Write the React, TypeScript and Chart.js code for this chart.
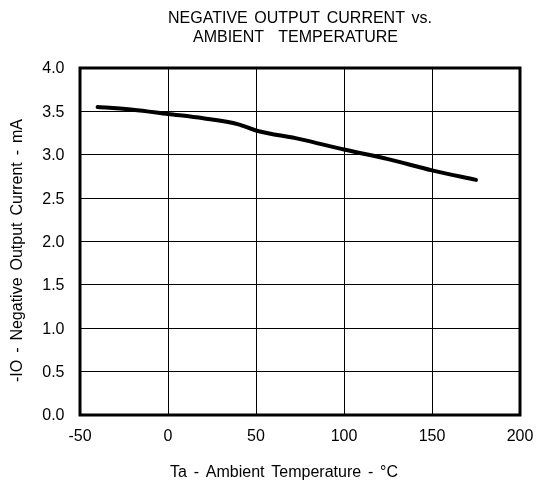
import React, { useEffect, useRef } from "react";
import { Chart, registerables } from "chart.js";

Chart.register(...registerables);

const temperatures = [-40, -20, 0, 20, 40, 50, 75, 100, 125, 150, 175];
const currents = [3.55, 3.52, 3.47, 3.42, 3.35, 3.28, 3.18, 3.06, 2.95, 2.82, 2.71];
const xTickValues = [-50, 0, 50, 100, 150, 200];
const yTickValues = [0, 0.5, 1, 1.5, 2, 2.5, 3, 3.5, 4];
const titleLine1 = ["NEGATIVE", "OUTPUT", "CURRENT", "vs."];
const titleLine2 = ["AMBIENT", "TEMPERATURE"];
const xTitleWords = ["Ta", "-", "Ambient", "Temperature", "-", "°C"];
const yTitleWords = ["-IO", "-", "Negative", "Output", "Current", "-", "mA"];

const FONT = "16px 'Liberation Sans', Arial, sans-serif";

function drawSpaced(ctx: CanvasRenderingContext2D, words: string[], left: number, right: number, baseline: number) {
  const widths = words.map((w) => ctx.measureText(w).width);
  const total = widths.reduce((a, b) => a + b, 0);
  const gap = words.length > 1 ? (right - left - total) / (words.length - 1) : 0;
  let x = left;
  ctx.textAlign = "left";
  ctx.textBaseline = "alphabetic";
  words.forEach((w, i) => {
    ctx.fillText(w, x, baseline);
    x += widths[i] + gap;
  });
}

const framePlugin = {
  id: "frameAndText",
  afterDraw(chart: any) {
    const { ctx, chartArea, scales } = chart;
    const { left, right, top, bottom } = chartArea;
    ctx.save();
    ctx.strokeStyle = "#000";
    ctx.lineWidth = 3;
    ctx.strokeRect(left, top, right - left, bottom - top);
    ctx.fillStyle = "#000";
    ctx.font = FONT;

    // tick labels
    ctx.textAlign = "center";
    ctx.textBaseline = "alphabetic";
    xTickValues.forEach((v) => {
      ctx.fillText(String(v), scales.x.getPixelForValue(v), 441);
    });
    ctx.textAlign = "right";
    ctx.textBaseline = "middle";
    yTickValues.forEach((v) => {
      ctx.fillText(v.toFixed(1), 64.5, scales.y.getPixelForValue(v) + 1);
    });

    // titles
    drawSpaced(ctx, titleLine1, 168, 432, 23.3);
    drawSpaced(ctx, titleLine2, 193, 398, 41.7);
    drawSpaced(ctx, xTitleWords, 170, 398, 476.5);
    ctx.translate(21.7, 382);
    ctx.rotate(-Math.PI / 2);
    drawSpaced(ctx, yTitleWords, 0, 263, 0);
    ctx.restore();
  },
};

export default function App() {
  const ref = useRef<HTMLCanvasElement | null>(null);
  useEffect(() => {
    if (!ref.current) return;
    const chart = new Chart(ref.current, {
      type: "line",
      data: {
        datasets: [
          {
            data: temperatures.map((t, i) => ({ x: t, y: currents[i] })),
            borderColor: "#000",
            borderWidth: 4,
            borderCapStyle: "round",
            pointRadius: 0,
            tension: 0.4,
            cubicInterpolationMode: "monotone",
            fill: false,
          },
        ],
      },
      options: {
        responsive: false,
        animation: false,
        layout: { padding: { top: 68, right: 16, left: 0, bottom: 0 } },
        plugins: { legend: { display: false }, tooltip: { enabled: false }, title: { display: false } },
        scales: {
          x: {
            type: "linear",
            min: -50,
            max: 200,
            afterFit: (s: any) => {
              s.height = 70;
            },
            ticks: { stepSize: 50, display: false },
            grid: { color: "#000", lineWidth: 1, drawTicks: false },
            border: { display: false },
          },
          y: {
            min: 0,
            max: 4,
            afterFit: (s: any) => {
              s.width = 80;
            },
            ticks: { stepSize: 0.5, display: false },
            grid: { color: "#000", lineWidth: 1, drawTicks: false },
            border: { display: false },
          },
        },
      },
      plugins: [framePlugin],
    } as any);
    return () => chart.destroy();
  }, []);
  return (
    <div style={{ position: "fixed", left: 0, top: 0, width: 536, height: 485, background: "#fff" }}>
      <canvas ref={ref} width={536} height={485} style={{ display: "block" }} />
    </div>
  );
}
